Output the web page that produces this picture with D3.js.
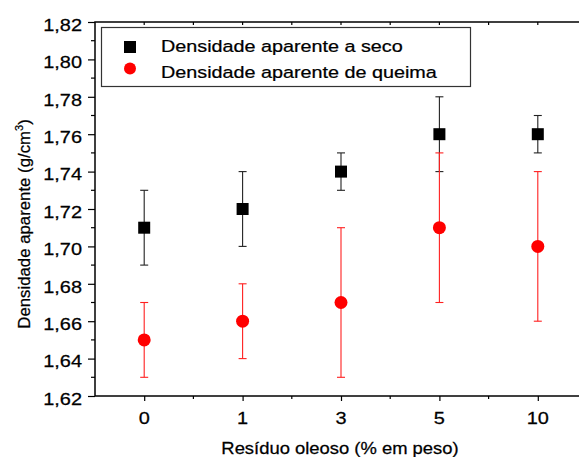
<!DOCTYPE html>
<html><head><meta charset="utf-8">
<script src="https://cdn.jsdelivr.net/npm/d3@7"></script>
<style>body{margin:0;background:#fff}svg{display:block}text{font-family:"Liberation Sans",Arial,sans-serif;fill:#000;stroke:#000;stroke-width:0.25}</style>
</head><body><svg id="c" width="579" height="457"></svg>
<script>
const categories = ["0","1","3","5","10"];
const secoValues = [1.71,1.72,1.74,1.76,1.76];
const secoErrors = [0.02,0.02,0.01,0.02,0.01];
const queimaValues = [1.65,1.66,1.67,1.71,1.70];
const queimaErrors = [0.02,0.02,0.04,0.04,0.04];
const yTicks = [1.62,1.64,1.66,1.68,1.70,1.72,1.74,1.76,1.78,1.80,1.82];
const seriesNames = ["Densidade aparente a seco","Densidade aparente de queima"];

const svg = d3.select("#c");
const L=95, R=587, T=22, B=396;
const x = d3.scalePoint().domain(categories).range([L,R]).padding(0.5);
const y = d3.scaleLinear().domain([1.62,1.82]).range([B,T]);
const loc = d3.formatLocale({decimal:",",thousands:".",grouping:[3],currency:["",""]});
const fmt = loc.format(".2f");
const SX = 1.16;

function txt(g, s, px, py, anchor, fs, sx){
  return g.append("text").attr("transform",`translate(${px},${py}) scale(${sx},1)`)
    .attr("text-anchor",anchor).attr("font-size",fs).text(s);
}

// y axis
const yAxis = svg.append("g").attr("transform",`translate(${L},0)`)
  .call(d3.axisLeft(y).tickValues(yTicks).tickSize(7).tickFormat(""));
yAxis.select(".domain").remove();
yAxis.selectAll("line").attr("stroke","#000").attr("stroke-width",1.2);
const yMinor = d3.range(0,yTicks.length-1).map(i=>(yTicks[i]+yTicks[i+1])/2);
svg.append("g").selectAll("line").data(yMinor).join("line")
  .attr("x1",L-4).attr("x2",L).attr("y1",d=>y(d)).attr("y2",d=>y(d)).attr("stroke","#000").attr("stroke-width",1.2);
yTicks.forEach(v=>txt(svg, fmt(v), 82, y(v)+8.7, "end", 17.2, SX));

// x axis
const xAxis = svg.append("g").attr("transform",`translate(0,${B})`)
  .call(d3.axisBottom(x).tickSize(5).tickFormat(""));
xAxis.select(".domain").remove();
xAxis.selectAll("line").attr("stroke","#000").attr("stroke-width",1.2);
const step = x.step();
const xMinor = categories.slice(0,-1).map(c=>x(c)+step/2);
svg.append("g").selectAll("line").data(xMinor).join("line")
  .attr("x1",d=>d).attr("x2",d=>d).attr("y1",B).attr("y2",B+3).attr("stroke","#000").attr("stroke-width",1.2);
// top ticks inward
svg.append("g").selectAll("line").data(categories.map(c=>x(c)).concat(xMinor)).join("line")
  .attr("x1",d=>d).attr("x2",d=>d).attr("y1",T).attr("y2",T+3).attr("stroke","#000").attr("stroke-width",1.2);
categories.forEach(c=>txt(svg, c, x(c), 424, "middle", 17.2, SX));

// frame
svg.append("rect").attr("x",L).attr("y",T).attr("width",R-L).attr("height",B-T)
  .attr("fill","none").attr("stroke","#000").attr("stroke-width",1.5);

// error bars + markers
function errBars(vals, errs, color){
  const g = svg.append("g").attr("stroke",color).attr("stroke-width",1.1);
  categories.forEach((c,i)=>{
    const cx = x(c);
    g.append("line").attr("x1",cx).attr("x2",cx).attr("y1",y(vals[i]-errs[i])).attr("y2",y(vals[i]+errs[i]));
    [vals[i]-errs[i], vals[i]+errs[i]].forEach(v=>
      g.append("line").attr("x1",cx-4).attr("x2",cx+4).attr("y1",y(v)).attr("y2",y(v)));
  });
}
errBars(secoValues, secoErrors, "#222");
svg.append("g").selectAll("rect").data(secoValues).join("rect")
  .attr("x",(d,i)=>x(categories[i])-6).attr("y",d=>y(d)-6).attr("width",12).attr("height",12).attr("fill","#000");
errBars(queimaValues, queimaErrors, "#ff2020");
svg.append("g").selectAll("circle").data(queimaValues).join("circle")
  .attr("cx",(d,i)=>x(categories[i])).attr("cy",d=>y(d)).attr("r",6.5).attr("fill","#ff0000");

// legend
const lg = svg.append("g");
lg.append("rect").attr("x",101.5).attr("y",27.5).attr("width",369).attr("height",59)
  .attr("fill","#fff").attr("stroke","#333").attr("stroke-width",1.2);
lg.append("rect").attr("x",124).attr("y",41).attr("width",12).attr("height",12).attr("fill","#000");
lg.append("circle").attr("cx",130).attr("cy",68.5).attr("r",6).attr("fill","#ff0000");
txt(lg, seriesNames[0], 161, 52, "start", 17.2, 1.15);
txt(lg, seriesNames[1], 161, 77.5, "start", 17.2, 1.15);

// axis titles
const xt = txt(svg, "Resíduo oleoso (% em peso)", 340, 454, "middle", 16.3, 1.13);
const yt = svg.append("text").attr("transform","translate(29.5,224) rotate(-90)")
  .attr("text-anchor","middle").attr("font-size",16.8);
yt.append("tspan").text("Densidade aparente (g/cm");
yt.append("tspan").attr("font-size",11).attr("dy",-7).text("3");
yt.append("tspan").attr("dy",7).text(")");
</script></body></html>
